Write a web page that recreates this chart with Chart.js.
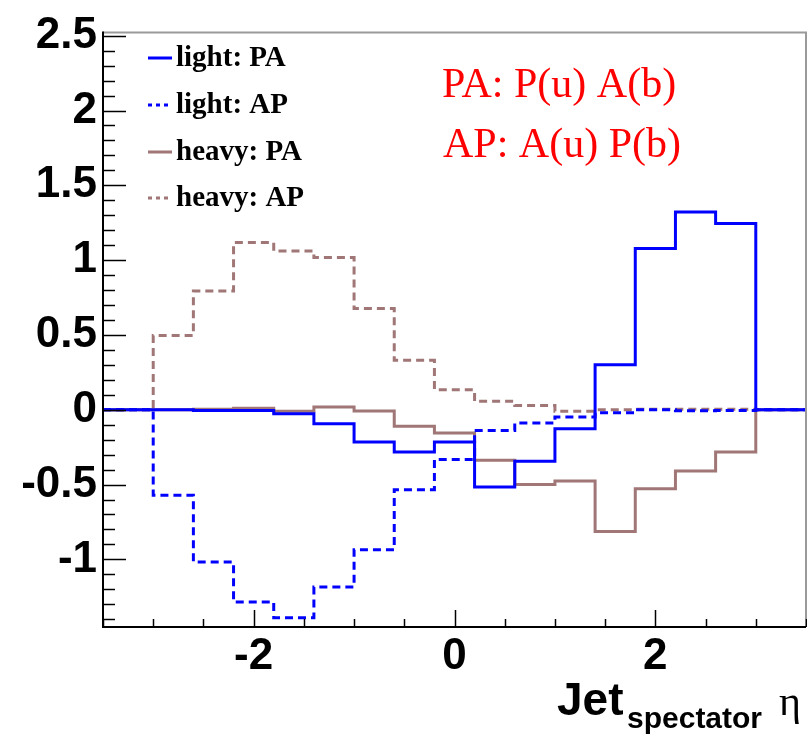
<!DOCTYPE html>
<html>
<head>
<meta charset="utf-8">
<script src="https://cdn.jsdelivr.net/npm/chart.js@4.4.1/dist/chart.umd.min.js"></script>
<style>
  html, body { margin: 0; padding: 0; background: #fff; }
  #wrap { width: 807px; height: 734px; }
</style>
</head>
<body>
<div id="wrap"><canvas id="etaChart" width="807" height="734"></canvas></div>
<script>
// spectator-jet eta binning (15 bins of 0.4)
const etaEdges = [-3.0, -2.6, -2.2, -1.8, -1.4, -1.0, -0.6, -0.2, 0.2, 0.6, 1.0, 1.4, 1.8, 2.2, 2.6, 3.0];

const lightPA = [0.0, -0.005, -0.005, -0.026, -0.093, -0.216, -0.283, -0.216, -0.517, -0.345, -0.127, 0.301, 1.077, 1.322, 1.244];
const lightAP = [-0.572, -1.018, -1.285, -1.39, -1.185, -0.935, -0.534, -0.332, -0.138, -0.089, -0.049, -0.02, 0.0, -0.007, -0.005];
const heavyPA = [0.0, 0.003, 0.01, -0.01, 0.018, -0.009, -0.111, -0.156, -0.338, -0.499, -0.477, -0.813, -0.528, -0.41, -0.283];
const heavyAP = [0.497, 0.793, 1.117, 1.061, 1.017, 0.676, 0.33, 0.134, 0.056, 0.029, -0.01, 0.0, 0.003, 0.003, 0.003];

const xLabels = [-2, 0, 2];
const yLabels = [-1, -0.5, 0, 0.5, 1, 1.5, 2, 2.5];
const notes = ["PA: P(u) A(b)", "AP: A(u) P(b)"];

const X_MIN = -3.5, X_MAX = 3.5;
const Y_MIN = -1.452, Y_MAX = 2.522;

const BLUE = "#0000ff";
const BROWN = "#a07676";

// turn bin contents into a closed step outline, flat at zero outside the bins
function histPoints(values) {
  const pts = [{ x: X_MIN, y: 0 }, { x: etaEdges[0], y: 0 }];
  values.forEach((v, i) => {
    pts.push({ x: etaEdges[i], y: v });
    pts.push({ x: etaEdges[i + 1], y: v });
  });
  pts.push({ x: etaEdges[etaEdges.length - 1], y: 0 });
  pts.push({ x: X_MAX, y: 0 });
  return pts;
}

function histDataset(label, values, color, dash) {
  return {
    label: label,
    data: histPoints(values),
    borderColor: color,
    borderWidth: 3,
    borderDash: dash,
    pointRadius: 0,
    fill: false,
    tension: 0,
  };
}

// ROOT-style decorations: inward ticks, frame, legend box and text labels
const decorations = {
  id: "decorations",
  afterDatasetsDraw(chart) {
    const { ctx, chartArea: a, scales } = chart;
    const xs = scales.x, ys = scales.y;
    ctx.save();

    // frame
    ctx.lineWidth = 2;
    ctx.strokeStyle = "#9a9a9a";
    ctx.beginPath();
    ctx.moveTo(a.left, a.top);
    ctx.lineTo(a.right, a.top);
    ctx.lineTo(a.right, a.bottom);
    ctx.stroke();
    ctx.strokeStyle = "#000";
    ctx.beginPath();
    ctx.moveTo(a.left, a.top - 1);
    ctx.lineTo(a.left, a.bottom);
    ctx.lineTo(a.right, a.bottom);
    ctx.stroke();

    // y ticks: major every 0.5, minor every 0.1
    ctx.lineWidth = 1.5;
    for (let i = Math.ceil(Y_MIN * 10); i <= Math.floor(Y_MAX * 10); i++) {
      const y = Math.round(ys.getPixelForValue(i / 10)) + 0.5;
      const len = i % 5 === 0 ? 23 : 12;
      ctx.beginPath();
      ctx.moveTo(a.left, y);
      ctx.lineTo(a.left + len, y);
      ctx.stroke();
    }
    // x ticks: major every 2, minor every 0.5
    for (let i = Math.ceil(X_MIN * 2); i <= Math.floor(X_MAX * 2); i++) {
      const x = Math.round(xs.getPixelForValue(i / 2)) + 0.5;
      const len = i % 4 === 0 ? 17 : 8;
      ctx.beginPath();
      ctx.moveTo(x, a.bottom);
      ctx.lineTo(x, a.bottom - len);
      ctx.stroke();
    }

    // legend
    const rows = [58, 105, 152, 198];
    ctx.font = "bold 29px 'Liberation Serif'";
    ctx.textBaseline = "middle";
    ctx.textAlign = "left";
    chart.data.datasets.forEach((ds, i) => {
      const y = rows[i];
      ctx.strokeStyle = ds.borderColor;
      ctx.lineWidth = 3;
      ctx.setLineDash(ds.borderDash.length ? [4, 4] : []);
      ctx.beginPath();
      ctx.moveTo(148, y);
      ctx.lineTo(172, y);
      ctx.stroke();
      ctx.setLineDash([]);
      ctx.fillStyle = "#000";
      ctx.fillText(ds.label, 176, y + 1);
    });

    // note on production modes
    ctx.font = "42px 'Liberation Serif'";
    ctx.fillStyle = "#ff0000";
    ctx.textBaseline = "alphabetic";
    ctx.fillText(notes[0], 442, 97);
    ctx.fillText(notes[1], 443, 157);

    // axis title
    ctx.fillStyle = "#000";
    ctx.font = "bold 46px 'Liberation Sans'";
    ctx.fillText("Jet", 557, 715);
    ctx.font = "bold 30px 'Liberation Sans'";
    ctx.fillText("spectator", 627, 728);
    ctx.font = "42px 'Liberation Serif'";
    ctx.fillText("\u03b7", 779, 715);

    ctx.restore();
  },
};

const ctx = document.getElementById("etaChart").getContext("2d");
const chart = new Chart(ctx, {
  type: "line",
  data: {
    datasets: [
      histDataset("light: PA", lightPA, BLUE, []),
      histDataset("light: AP", lightAP, BLUE, [8, 5]),
      histDataset("heavy: PA", heavyPA, BROWN, []),
      histDataset("heavy: AP", heavyAP, BROWN, [8, 5]),
    ],
  },
  options: {
    responsive: false,
    animation: false,
    layout: { padding: { top: 32, right: 1, left: 0, bottom: 0 } },
    plugins: {
      legend: { display: false },
      tooltip: { enabled: false },
    },
    scales: {
      x: {
        type: "linear",
        min: X_MIN,
        max: X_MAX,
        grid: { display: false, drawTicks: false },
        border: { display: false },
        afterBuildTicks: (scale) => {
          scale.ticks = xLabels.map((v) => ({ value: v }));
        },
        afterFit: (scale) => {
          scale.height = 107;
        },
        ticks: {
          color: "#000",
          padding: 3,
          maxRotation: 0,
          font: { family: "'Liberation Sans'", size: 44, weight: "bold" },
          callback: (v) => String(v),
        },
      },
      y: {
        type: "linear",
        min: Y_MIN,
        max: Y_MAX,
        grid: { display: false, drawTicks: false },
        border: { display: false },
        afterBuildTicks: (scale) => {
          scale.ticks = yLabels.map((v) => ({ value: v }));
        },
        afterFit: (scale) => {
          scale.width = 103;
        },
        ticks: {
          color: "#000",
          padding: 6,
          font: { family: "'Liberation Sans'", size: 44, weight: "bold" },
          callback: (v) => String(v),
        },
      },
    },
  },
  plugins: [decorations],
});
</script>
</body>
</html>
